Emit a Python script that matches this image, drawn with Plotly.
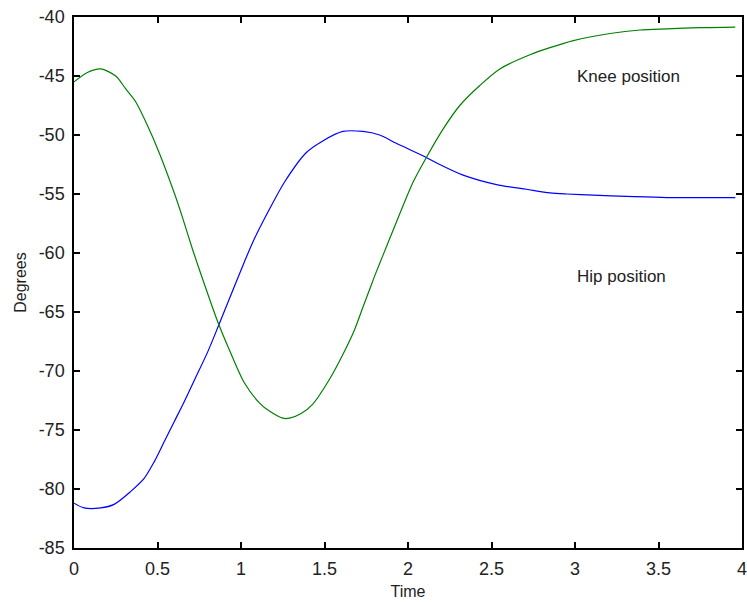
import plotly.graph_objects as go

knee_t = [0.0, 0.08, 0.16, 0.25, 0.31, 0.37, 0.44, 0.51, 0.60, 0.65, 0.71, 0.77, 0.86, 0.93,
          1.02, 1.11, 1.17, 1.25, 1.29, 1.36, 1.43, 1.53, 1.61, 1.68, 1.73, 1.77, 1.81, 1.85,
          1.89, 1.95, 2.03, 2.11, 2.21, 2.31, 2.43, 2.55, 2.73, 2.85, 2.99, 3.21, 3.39, 3.55,
          3.75, 3.96]
knee = [-45.5, -44.7, -44.4, -45.0, -46.1, -47.2, -49.2, -51.5, -54.9, -57.0, -59.7, -62.2,
        -65.8, -68.2, -71.0, -72.7, -73.4, -74.0, -74.0, -73.6, -72.8, -70.7, -68.6, -66.5,
        -64.6, -63.1, -61.6, -60.2, -58.8, -56.7, -54.0, -51.9, -49.5, -47.5, -45.8, -44.4,
        -43.2, -42.6, -42.0, -41.4, -41.1, -41.0, -40.9, -40.85]

hip_t = [0.0, 0.06, 0.16, 0.24, 0.34, 0.42, 0.48, 0.54, 0.60, 0.66, 0.72, 0.80, 0.87, 0.99,
         1.07, 1.17, 1.26, 1.39, 1.49, 1.61, 1.73, 1.83, 1.93, 2.11, 2.19, 2.33, 2.53, 2.71,
         2.85, 2.95, 3.11, 3.31, 3.55, 3.96]
hip = [-81.2, -81.6, -81.6, -81.3, -80.2, -79.1, -77.7, -76.0, -74.3, -72.6, -70.8, -68.4,
       -66.0, -61.8, -59.1, -56.3, -54.0, -51.5, -50.5, -49.7, -49.7, -50.0, -50.7, -51.9,
       -52.5, -53.4, -54.2, -54.6, -54.9, -55.0, -55.1, -55.2, -55.3, -55.3]

x_ticks = [0, 0.5, 1, 1.5, 2, 2.5, 3, 3.5, 4]
x_tick_labels = ["0", "0.5", "1", "1.5", "2", "2.5", "3", "3.5", "4"]
y_ticks = [-85, -80, -75, -70, -65, -60, -55, -50, -45, -40]
y_tick_labels = [str(v) for v in y_ticks]

font_family = "Liberation Sans, Arial, sans-serif"
text_color = "#222222"

fig = go.Figure()
fig.add_trace(go.Scatter(x=hip_t, y=hip, mode="lines",
                         line=dict(color="#0000ff", width=1.2, shape="spline", smoothing=0.8),
                         showlegend=False))
fig.add_trace(go.Scatter(x=knee_t, y=knee, mode="lines",
                         line=dict(color="#008000", width=1.2, shape="spline", smoothing=0.8),
                         showlegend=False))

fig.add_annotation(x=3.0, y=-45.0, text="Knee position", showarrow=False, xanchor="left",
                   font=dict(family=font_family, size=17, color=text_color))
fig.add_annotation(x=3.0, y=-62.0, text="Hip position", showarrow=False, xanchor="left",
                   font=dict(family=font_family, size=17, color=text_color))

axis_common = dict(showgrid=False, zeroline=False, showline=True, linecolor="black", linewidth=1.5,
                   mirror="ticks", ticks="inside", ticklen=6, tickcolor="black", tickwidth=1.5,
                   automargin=False, ticklabelstandoff=4, ticklabeloverflow="allow",
                   tickfont=dict(family=font_family, size=18, color=text_color))

fig.update_xaxes(range=[0, 4], tickvals=x_ticks, ticktext=x_tick_labels,
                 title=dict(text="Time", font=dict(family=font_family, size=16, color=text_color),
                            standoff=7), **axis_common)
fig.update_yaxes(range=[-85, -40], tickvals=y_ticks, ticktext=y_tick_labels,
                 title=dict(text="Degrees", font=dict(family=font_family, size=16, color=text_color),
                            standoff=8), **axis_common)

fig.update_layout(width=747, height=604, margin=dict(l=74, r=5, t=17, b=56),
                  plot_bgcolor="white", paper_bgcolor="white")

fig.write_html("out.html", config={"displayModeBar": False},
               post_script="document.body.style.margin='0';document.body.style.overflow='hidden';")
